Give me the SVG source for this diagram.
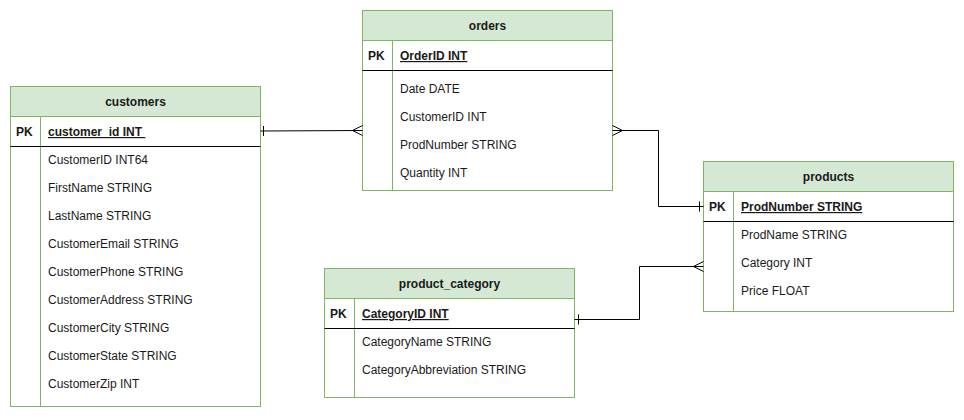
<svg xmlns="http://www.w3.org/2000/svg" width="964" height="420" viewBox="0 0 964 420">
<style>
.box{fill:#ffffff;stroke:#82b366;stroke-width:1}
.hdr{fill:#d5e8d4;stroke:#82b366;stroke-width:1}
.sep{stroke:#000000;stroke-width:1}
.div{stroke:#82b366;stroke-width:1}
text{font-family:"Liberation Sans",Arial,sans-serif;font-size:12px;fill:#1a1a1a}
.t{font-weight:bold;text-anchor:middle}
.pk{font-weight:bold}
.pkf{font-weight:bold;text-decoration:underline}
.c{fill:none;stroke:#000000;stroke-width:1}
</style>
<g id="customers">
<rect class="box" x="10.5" y="86.5" width="250" height="320"/>
<rect class="hdr" x="10.5" y="86.5" width="250" height="30"/>
<line class="div" x1="40.5" y1="116.5" x2="40.5" y2="406.5"/>
<line class="sep" x1="10.5" y1="146.5" x2="260.5" y2="146.5"/>
<text class="t" x="135.5" y="106">customers</text>
<text class="pk" x="16" y="136">PK</text>
<text class="pkf" x="48" y="136">customer_id INT&#160;</text>
<text x="48" y="164">CustomerID INT64</text>
<text x="48" y="192">FirstName STRING</text>
<text x="48" y="220">LastName STRING</text>
<text x="48" y="248">CustomerEmail STRING</text>
<text x="48" y="276">CustomerPhone STRING</text>
<text x="48" y="304">CustomerAddress STRING</text>
<text x="48" y="332">CustomerCity STRING</text>
<text x="48" y="360">CustomerState STRING</text>
<text x="48" y="388">CustomerZip INT</text>
</g>
<g id="orders">
<rect class="box" x="362.5" y="10.5" width="250" height="180"/>
<rect class="hdr" x="362.5" y="10.5" width="250" height="30"/>
<line class="div" x1="392.5" y1="40.5" x2="392.5" y2="190.5"/>
<line class="sep" x1="362.5" y1="70.5" x2="612.5" y2="70.5"/>
<text class="t" x="487.5" y="30">orders</text>
<text class="pk" x="368" y="60">PK</text>
<text class="pkf" x="400" y="60">OrderID INT</text>
<text x="400" y="93">Date DATE</text>
<text x="400" y="121">CustomerID INT</text>
<text x="400" y="149">ProdNumber STRING</text>
<text x="400" y="177">Quantity INT</text>
</g>
<g id="products">
<rect class="box" x="703.5" y="161.5" width="250" height="150"/>
<rect class="hdr" x="703.5" y="161.5" width="250" height="30"/>
<line class="div" x1="733.5" y1="191.5" x2="733.5" y2="311.5"/>
<line class="sep" x1="703.5" y1="221.5" x2="953.5" y2="221.5"/>
<text class="t" x="828.5" y="181">products</text>
<text class="pk" x="709" y="211">PK</text>
<text class="pkf" x="741" y="211">ProdNumber STRING</text>
<text x="741" y="239">ProdName STRING</text>
<text x="741" y="267">Category INT</text>
<text x="741" y="295">Price FLOAT</text>
</g>
<g id="product_category">
<rect class="box" x="324.5" y="268.5" width="250" height="129"/>
<rect class="hdr" x="324.5" y="268.5" width="250" height="30"/>
<line class="div" x1="354.5" y1="298.5" x2="354.5" y2="397.5"/>
<line class="sep" x1="324.5" y1="328.5" x2="574.5" y2="328.5"/>
<text class="t" x="449.5" y="288">product_category</text>
<text class="pk" x="330" y="318">PK</text>
<text class="pkf" x="362" y="318">CategoryID INT</text>
<text x="362" y="346">CategoryName STRING</text>
<text x="362" y="374">CategoryAbbreviation STRING</text>
</g>
<g id="connectors">
<path class="c" d="M260.5,131 L362.5,130.5"/>
<path class="c" d="M263.5,126 L263.5,136"/>
<path class="c" d="M362.5,125.5 L352.5,130.5 L362.5,135.5"/>
<path class="c" d="M612.5,130.5 L658.5,130.5 L658.5,206.5 L703.5,206.5"/>
<path class="c" d="M612.5,125.5 L622.5,130.5 L612.5,135.5"/>
<path class="c" d="M699.5,201.5 L699.5,211.5"/>
<path class="c" d="M574.5,319.5 L639.5,319.5 L639.5,266.5 L703.5,266.5"/>
<path class="c" d="M578.5,314.5 L578.5,324.5"/>
<path class="c" d="M703.5,261.5 L693.5,266.5 L703.5,271.5"/>
</g>
</svg>
